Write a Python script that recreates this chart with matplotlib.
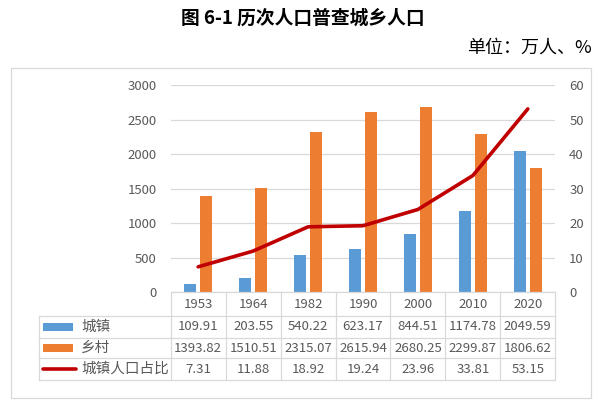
import matplotlib
matplotlib.use('Agg')
import matplotlib.pyplot as plt
from matplotlib.transforms import Affine2D, blended_transform_factory
from matplotlib.patches import Rectangle
from matplotlib.lines import Line2D
import numpy as np

plt.rcParams['font.family'] = ['Noto Sans CJK SC', 'DejaVu Sans']

# ---- data ----
years = ['1953', '1964', '1982', '1990', '2000', '2010', '2020']
urban = [109.91, 203.55, 540.22, 623.17, 844.51, 1174.78, 2049.59]
rural = [1393.82, 1510.51, 2315.07, 2615.94, 2680.25, 2299.87, 1806.62]
ratio = [7.31, 11.88, 18.92, 19.24, 23.96, 33.81, 53.15]
series_names = ['城镇', '乡村', '城镇人口占比']
left_ticks = [0, 500, 1000, 1500, 2000, 2500, 3000]
right_ticks = [0, 10, 20, 30, 40, 50, 60]
title = '图 6-1 历次人口普查城乡人口'
unit = '单位：万人、%'

# ---- styling ----
C_URB = '#5B9BD5'
C_RUR = '#ED7D31'
C_LINE = '#C00000'
C_GRID = '#D9D9D9'
C_TXT = '#595959'

W, H = 598, 403
fig = plt.figure(figsize=(W / 100, H / 100), dpi=100)
fig.patch.set_facecolor('white')
px = Affine2D().scale(1 / W, -1 / H).translate(0, 1) + fig.transFigure

L, R, T, B = 170.7, 555.3, 85.3, 292.0
ax = fig.add_axes([L / W, 1 - B / H, (R - L) / W, (B - T) / H])
x = np.arange(len(years))
bw = 0.218
off = 0.145
ax.bar(x - off, urban, width=bw, color=C_URB, zorder=2)
ax.bar(x + off, rural, width=bw, color=C_RUR, zorder=2)
ax.set_xlim(-0.5, len(years) - 0.5)
ax.set_ylim(0, 3000)
ax.set_yticks(left_ticks)
ax.set_xticks([])
ax.yaxis.grid(True, color=C_GRID, lw=0.9)
ax.set_axisbelow(True)
for s in ax.spines.values():
    s.set_visible(False)
ax.tick_params(axis='y', length=0, labelsize=9.5, colors=C_TXT, pad=10)

ax2 = ax.twinx()
ax2.plot(x, ratio, color=C_LINE, lw=2.6, solid_capstyle='round', zorder=3)
ax2.set_ylim(0, 60)
ax2.set_yticks(right_ticks)
for s in ax2.spines.values():
    s.set_visible(False)
ax2.tick_params(axis='y', length=0, labelsize=9.5, colors=C_TXT, pad=10)
ax2.set_xlim(-0.5, len(years) - 0.5)

# ---- data table ----
bt = blended_transform_factory(ax.transData, px)
row_lines = [292, 316, 337.7, 358.3, 380]
for i in range(len(years) + 1):
    fig.add_artist(Line2D([i - 0.5, i - 0.5], [row_lines[0], row_lines[-1]],
                          transform=bt, color=C_GRID, lw=0.9))
for yl in row_lines:
    fig.add_artist(Line2D([-0.5, len(years) - 0.5], [yl, yl], transform=bt,
                          color=C_GRID, lw=0.9))
legL = 38.7
for yl in row_lines[1:]:
    fig.add_artist(Line2D([legL, L], [yl, yl], transform=px, color=C_GRID, lw=0.9))
fig.add_artist(Line2D([legL, legL], [row_lines[1], row_lines[-1]], transform=px,
                      color=C_GRID, lw=0.9))

row_c = [(row_lines[k] + row_lines[k + 1]) / 2 for k in range(4)]
fs = 9.5
for i, yr in enumerate(years):
    fig.text(i, row_c[0] + 0.5, yr, transform=bt, ha='center', va='center',
             fontsize=fs, color=C_TXT)
    fig.text(i, row_c[1], f'{urban[i]:.2f}', transform=bt, ha='center', va='center',
             fontsize=fs, color=C_TXT)
    fig.text(i, row_c[2], f'{rural[i]:.2f}', transform=bt, ha='center', va='center',
             fontsize=fs, color=C_TXT)
    fig.text(i, row_c[3], f'{ratio[i]:.2f}', transform=bt, ha='center', va='center',
             fontsize=fs, color=C_TXT)

# legend keys
fig.add_artist(Rectangle((43.3, row_c[1] - 4), 29.4, 8, transform=px,
                         color=C_URB, lw=0))
fig.add_artist(Rectangle((43.3, row_c[2] - 4), 29.4, 8, transform=px,
                         color=C_RUR, lw=0))
fig.add_artist(Line2D([43, 76], [row_c[3], row_c[3]], transform=px,
                      color=C_LINE, lw=2.6, solid_capstyle='round'))
for k, name in enumerate(series_names):
    fig.text(81, row_c[k + 1], name, transform=px, ha='left', va='center',
             fontsize=10.5, color=C_TXT)

# chart frame
fig.add_artist(Rectangle((10.7, 68), 580.6, 330, transform=px, fill=False,
                         ec=C_GRID, lw=0.9))

# titles
fig.text(303, 18, title, transform=px, ha='center', va='center',
         fontsize=13.5, fontweight='bold', color='black')
fig.text(592, 48, unit, transform=px, ha='right', va='center',
         fontsize=13, color='black')

fig.savefig('out.png', dpi=100)
